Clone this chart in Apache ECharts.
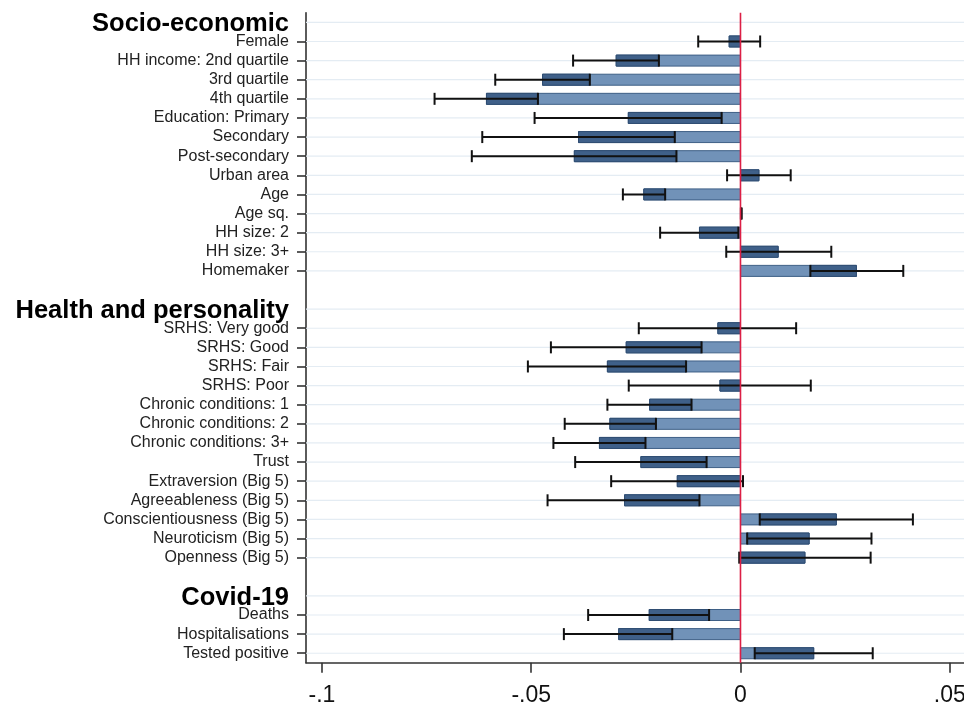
<!DOCTYPE html>
<html>
<head>
<meta charset="utf-8">
<script src="https://cdn.jsdelivr.net/npm/echarts@6/dist/echarts.min.js"></script>
<style>
html,body{margin:0;padding:0;background:#fff;}
#chart{width:964px;height:705px;}
</style>
</head>
<body>
<div id="chart"></div>
<script>
// ---- data ----
const rowLabels = [
  'Socio-economic',
  'Female','HH income: 2nd quartile','3rd quartile','4th quartile','Education: Primary',
  'Secondary','Post-secondary','Urban area','Age','Age sq.','HH size: 2','HH size: 3+','Homemaker',
  '',
  'Health and personality',
  'SRHS: Very good','SRHS: Good','SRHS: Fair','SRHS: Poor','Chronic conditions: 1',
  'Chronic conditions: 2','Chronic conditions: 3+','Trust','Extraversion (Big 5)',
  'Agreeableness (Big 5)','Conscientiousness (Big 5)','Neuroticism (Big 5)','Openness (Big 5)',
  ' ',
  'Covid-19',
  'Deaths','Hospitalisations','Tested positive'
];
const headerRows = ['Socio-economic','Health and personality','Covid-19'];
const coef = [
  null,
  -0.0027,-0.0297,-0.0473,-0.0607,-0.0268,-0.0387,-0.0397,0.0044,-0.0231,0.0002,-0.0098,0.0090,0.0277,
  null,null,
  -0.0054,-0.0273,-0.0318,-0.0049,-0.0217,-0.0312,-0.0337,-0.0238,-0.0151,-0.0277,0.0229,0.0164,0.0154,
  null,null,
  -0.0218,-0.0291,0.0175
];
const ciLow = [
  null,
  -0.0101,-0.0400,-0.0586,-0.0731,-0.0492,-0.0617,-0.0642,-0.0032,-0.0281,0.0001,-0.0192,-0.0034,0.0167,
  null,null,
  -0.0243,-0.0453,-0.0508,-0.0267,-0.0318,-0.0420,-0.0447,-0.0395,-0.0309,-0.0461,0.0046,0.0016,-0.0003,
  null,null,
  -0.0364,-0.0422,0.0034
];
const ciHigh = [
  null,
  0.0047,-0.0195,-0.0360,-0.0484,-0.0045,-0.0157,-0.0153,0.0120,-0.0180,0.0003,-0.0005,0.0217,0.0389,
  null,null,
  0.0133,-0.0093,-0.0130,0.0168,-0.0117,-0.0202,-0.0227,-0.0081,0.0006,-0.0098,0.0412,0.0313,0.0311,
  null,null,
  -0.0075,-0.0163,0.0316
];
const xTicks = [-0.1, -0.05, 0, 0.05];

// ---- build ----
const FONT = "'Liberation Sans', Arial, sans-serif";
const isHeader = v => headerRows.indexOf(v) >= 0;
const isBlank = v => v.trim() === '';

const estData = [];
rowLabels.forEach((lab, i) => {
  if (coef[i] !== null) estData.push([i, coef[i], ciLow[i], ciHigh[i]]);
});
const gridData = [];
rowLabels.forEach((lab, i) => { if (!isBlank(lab)) gridData.push([i]); });

function fmtTick(v) {
  if (v === 0) return '0';
  const s = String(Math.abs(v)).replace(/^0/, '');
  return (v < 0 ? '-' : '') + s;
}

const chart = echarts.init(document.getElementById('chart'), null, {renderer: 'canvas'});
const BAR_H = 11;
const option = {
  animation: false,
  backgroundColor: '#ffffff',
  grid: {left: 306, right: 0, top: 12.8, bottom: 42.2, containLabel: false, outerBoundsMode: 'none'},
  xAxis: {
    type: 'value',
    min: -0.10382,
    max: 0.05341,
    axisLine: {show: true, onZero: false, lineStyle: {color: '#333', width: 1.6}},
    axisTick: {show: true, length: 10, customValues: xTicks, lineStyle: {color: '#333', width: 1.6}},
    axisLabel: {
      customValues: xTicks, formatter: fmtTick,
      fontSize: 23, color: '#111', fontFamily: FONT, margin: 21
    },
    splitLine: {show: false}
  },
  yAxis: {
    type: 'category',
    data: rowLabels,
    inverse: true,
    boundaryGap: true,
    axisLine: {show: true, onZero: false, lineStyle: {color: '#333', width: 1.6}},
    axisTick: {
      show: true, length: 9, alignWithLabel: true,
      interval: (idx, val) => !isHeader(val) && !isBlank(val),
      lineStyle: {color: '#333', width: 1.6}
    },
    axisLabel: {
      interval: 0,
      margin: 17,
      fontSize: 16,
      color: '#222',
      fontFamily: FONT,
      formatter: v => isHeader(v) ? '{h|' + v + '}' : v,
      rich: {
        h: {fontSize: 25.5, fontWeight: 'bold', color: '#000', fontFamily: FONT, padding: [4, 0, 0, 0]}
      }
    },
    splitLine: {show: false}
  },
  series: [
    {
      type: 'custom',
      name: 'grid',
      z: 1,
      silent: true,
      data: gridData,
      encode: {y: 0},
      renderItem: function (params, api) {
        const cs = params.coordSys;
        const y = api.coord([0, api.value(0)])[1];
        return {
          type: 'line',
          shape: {x1: cs.x, y1: y, x2: cs.x + cs.width, y2: y},
          style: {stroke: '#e4ecf3', lineWidth: 1.2}
        };
      }
    },
    {
      type: 'custom',
      name: 'estimates',
      z: 3,
      data: estData,
      encode: {y: 0, x: [1, 2, 3]},
      renderItem: function (params, api) {
        const row = api.value(0);
        const c = api.value(1), lo = api.value(2), hi = api.value(3);
        const p0 = api.coord([0, row]);
        const y = p0[1];
        const x0 = p0[0];
        const xc = api.coord([c, row])[0];
        const xl = api.coord([lo, row])[0];
        const xh = api.coord([hi, row])[0];
        const children = [];
        const bl = Math.min(x0, xc), br = Math.max(x0, xc);
        children.push({
          type: 'rect',
          shape: {x: bl, y: y - BAR_H / 2, width: Math.max(br - bl, 0.8), height: BAR_H},
          style: {fill: '#7192b8', stroke: '#3e5f86', lineWidth: 1}
        });
        const ol = Math.max(bl, Math.min(xl, xh)), or = Math.min(br, Math.max(xl, xh));
        if (or > ol) {
          children.push({
            type: 'rect',
            shape: {x: ol, y: y - BAR_H / 2, width: or - ol, height: BAR_H},
            style: {fill: '#3f6089', stroke: '#2f4d72', lineWidth: 1}
          });
        }
        children.push({
          type: 'line',
          shape: {x1: xl, y1: y, x2: xh, y2: y},
          style: {stroke: '#111', lineWidth: 2}
        });
        [xl, xh].forEach(function (xx) {
          children.push({
            type: 'line',
            shape: {x1: xx, y1: y - 6, x2: xx, y2: y + 6},
            style: {stroke: '#111', lineWidth: 2}
          });
        });
        return {type: 'group', children: children};
      }
    },
    {
      type: 'custom',
      name: 'zero',
      z: 5,
      silent: true,
      data: [[0, 0]],
      encode: {x: 0, y: 1},
      renderItem: function (params, api) {
        const cs = params.coordSys;
        const x = api.coord([api.value(0), 0])[0];
        return {
          type: 'line',
          shape: {x1: x, y1: cs.y, x2: x, y2: cs.y + cs.height},
          style: {stroke: '#dc1f45', lineWidth: 1.6}
        };
      }
    }
  ]
};
chart.setOption(option);
</script>
</body>
</html>
